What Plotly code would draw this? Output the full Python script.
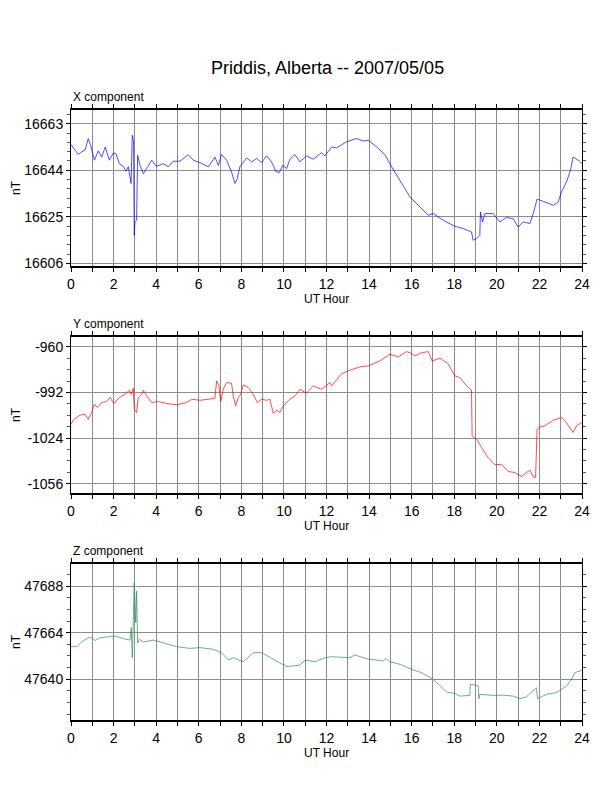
import plotly.graph_objects as go

# UT hour / nT values, one pair of lists per component
x_hours = [0.00, 0.14, 0.34, 0.50, 0.66, 0.81, 0.92, 1.10, 1.28, 1.44, 1.61, 1.80, 1.99, 2.11,
           2.27, 2.46, 2.58, 2.69, 2.82, 2.88, 2.94, 2.97, 3.00, 3.08, 3.13, 3.24, 3.40, 3.55,
           3.79, 4.02, 4.33, 4.57, 4.80, 5.12, 5.51, 5.74, 6.06, 6.45, 6.76, 6.92, 7.07, 7.31,
           7.54, 7.70, 7.81, 7.93, 8.09, 8.25, 8.48, 8.72, 8.95, 9.19, 9.42, 9.62, 9.78, 9.94,
           10.13, 10.28, 10.52, 10.75, 11.06, 11.38, 11.77, 11.92, 12.24, 12.47, 12.94, 13.41,
           13.72, 13.96, 14.36, 14.74, 15.06, 15.45, 15.92, 16.31, 16.78, 17.02, 17.48, 18.03,
           18.42, 18.81, 18.89, 19.05, 19.20, 19.23, 19.33, 19.44, 19.83, 20.14, 20.45, 20.77,
           21.00, 21.24, 21.55, 21.71, 21.89, 22.18, 22.65, 22.88, 23.04, 23.27, 23.46, 23.58,
           23.82, 24.00]
x_nt = [16654.5, 16652.9, 16650.5, 16651.5, 16652.2, 16656.9, 16654.2, 16648.1, 16651.9, 16649.4,
        16653.5, 16648.1, 16651.1, 16650.8, 16646.7, 16645.6, 16643.6, 16645.4, 16638.6, 16658.3,
        16655.6, 16617.4, 16622.9, 16623.6, 16650.1, 16646.0, 16642.6, 16644.7, 16648.1, 16645.6,
        16646.7, 16645.4, 16647.7, 16647.7, 16650.4, 16648.1, 16647.1, 16645.4, 16649.4, 16646.0,
        16650.4, 16648.1, 16643.3, 16638.6, 16640.6, 16645.4, 16647.4, 16649.0, 16647.4, 16648.8,
        16647.1, 16649.9, 16647.4, 16643.6, 16643.0, 16646.0, 16644.7, 16648.5, 16650.4, 16647.4,
        16649.9, 16648.5, 16651.2, 16649.9, 16653.5, 16653.1, 16655.6, 16657.0, 16655.9, 16656.3,
        16653.5, 16650.4, 16645.4, 16639.9, 16633.1, 16629.7, 16625.6, 16626.3, 16623.6, 16621.1,
        16620.2, 16618.8, 16615.4, 16616.1, 16617.4, 16627.0, 16622.9, 16626.3, 16626.3, 16622.9,
        16624.7, 16624.2, 16620.8, 16622.9, 16622.2, 16626.3, 16632.2, 16631.3, 16629.7, 16631.0,
        16635.2, 16639.2, 16644.0, 16649.4, 16648.1, 16646.7]

y_hours = [0.00, 0.14, 0.42, 0.66, 0.81, 0.97, 1.10, 1.24, 1.44, 1.67, 1.83, 2.02, 2.27, 2.54,
           2.74, 2.82, 2.93, 2.97, 3.08, 3.16, 3.32, 3.40, 3.55, 3.79, 4.10, 4.49, 4.96, 5.43,
           5.67, 6.06, 6.45, 6.76, 6.84, 6.95, 7.03, 7.15, 7.31, 7.54, 7.62, 7.73, 7.86, 7.97,
           8.09, 8.33, 8.56, 8.75, 8.95, 9.19, 9.34, 9.50, 9.66, 9.81, 9.97, 10.28, 10.52, 10.75,
           11.06, 11.38, 11.77, 12.16, 12.24, 12.71, 13.10, 13.57, 13.96, 14.51, 14.98, 15.37,
           15.76, 15.92, 16.15, 16.46, 16.78, 16.96, 17.33, 17.72, 18.03, 18.26, 18.58, 18.81,
           18.84, 19.05, 19.28, 19.59, 19.91, 20.22, 20.53, 20.85, 21.16, 21.39, 21.55, 21.71,
           21.82, 21.89, 22.02, 22.25, 22.65, 23.04, 23.19, 23.58, 23.74, 24.00]
y_nt = [-1014.2, -1010.7, -1007.9, -1007.2, -1010.7, -1006.0, -1000.2, -1002.5, -999.0, -998.3,
        -995.5, -999.7, -995.5, -993.2, -990.4, -993.2, -989.0, -1003.7, -1006.0, -995.5,
        -993.2, -990.4, -994.3, -999.0, -998.3, -999.7, -1000.6, -999.0, -996.7, -997.4,
        -996.7, -996.0, -983.8, -987.3, -998.3, -989.7, -985.0, -985.5, -994.3, -1001.3,
        -995.5, -993.2, -986.6, -988.5, -993.2, -999.0, -996.7, -997.4, -996.7, -1006.7,
        -1004.4, -1006.0, -1001.3, -996.7, -994.3, -989.7, -992.5, -987.3, -989.7, -985.0,
        -987.3, -978.7, -976.3, -974.0, -973.3, -969.8, -965.1, -967.0, -963.3, -964.0,
        -966.3, -964.0, -963.3, -969.8, -967.9, -972.1, -980.3, -981.5, -987.3, -990.4,
        -1022.4, -1024.8, -1030.6, -1037.6, -1042.7, -1042.3, -1047.4, -1048.1, -1050.9, -1048.1,
        -1046.4, -1051.1, -1051.6, -1017.7, -1016.1, -1015.4, -1011.4, -1009.5, -1011.4, -1020.0,
        -1015.4, -1013.0]

z_hours = [0.00, 0.27, 0.50, 0.81, 0.97, 1.13, 1.36, 1.67, 2.07, 2.46, 2.77, 2.83, 2.88, 2.97,
           3.04, 3.08, 3.13, 3.21, 3.40, 3.87, 4.33, 4.96, 5.59, 6.06, 6.68, 7.07, 7.39, 7.62,
           8.09, 8.56, 8.95, 9.50, 10.13, 10.75, 10.99, 11.46, 11.92, 12.24, 13.10, 13.33, 13.88,
           14.66, 14.79, 14.98, 15.45, 16.00, 16.46, 17.02, 17.64, 18.03, 18.26, 18.73, 18.76,
           19.02, 19.13, 19.16, 19.20, 19.83, 20.30, 20.77, 21.08, 21.39, 21.71, 21.86, 21.91,
           22.33, 22.80, 23.27, 23.51, 23.66, 24.00]
z_nt = [47656.8, 47656.8, 47659.2, 47661.4, 47661.4, 47660.0, 47661.4, 47661.9, 47662.3, 47660.9,
        47660.2, 47666.6, 47651.1, 47689.8, 47669.2, 47685.5, 47658.8, 47660.6, 47659.2, 47660.2,
        47658.8, 47656.8, 47655.9, 47656.3, 47655.4, 47653.7, 47649.9, 47651.1, 47649.0, 47653.7,
        47653.7, 47650.2, 47646.5, 47647.3, 47649.9, 47649.0, 47651.1, 47651.6, 47651.1, 47652.5,
        47650.6, 47649.4, 47650.6, 47649.0, 47647.7, 47645.1, 47643.4, 47639.9, 47633.4, 47632.7,
        47631.3, 47631.7, 47637.3, 47637.0, 47636.5, 47630.0, 47632.2, 47631.7, 47631.8, 47631.3,
        47630.0, 47631.0, 47633.9, 47635.6, 47630.0, 47632.2, 47633.1, 47636.5, 47639.9, 47643.4,
        47644.6]

# labelled y ticks of each panel
x_ticks = [16606, 16625, 16644, 16663]
y_ticks = [-1056, -1024, -992, -960]
z_ticks = [47640, 47664, 47688]

font = "Liberation Sans, Arial, Helvetica, sans-serif"
W, H = 612, 792
OFF = 8  # the page puts the figure 8 px in from the window corner


def px(x):
    return (x - OFF) / W


def py(y):
    return 1 - (y - OFF) / H


panels = [
    # name, hours, values, colour, ticks, minor dtick, range, frame top/bottom (px)
    ("X component", x_hours, x_nt, "#0000ff", x_ticks, 3.8, [16604.9, 16668.6], (110, 266)),
    ("Y component", y_hours, y_nt, "#ff0000", y_ticks, 8, [-1062.5, -953.0], (337, 493)),
    ("Z component", z_hours, z_nt, "#2e8b57", z_ticks, 6, [47619.0, 47699.4], (564, 720)),
]

left, right = px(71), px(582)

fig = go.Figure()
annotations = [dict(text="Priddis, Alberta -- 2007/05/05", x=px(327), y=py(68),
                    xref="paper", yref="paper", showarrow=False,
                    xanchor="center", yanchor="middle",
                    font=dict(size=18, family=font, color="black"))]

for i, (name, hrs, vals, col, tv, mdt, rng, (ptop, pbot)) in enumerate(panels):
    n = "" if i == 0 else str(i + 1)
    top, bottom = py(ptop), py(pbot)
    fig.add_trace(go.Scatter(x=hrs, y=vals, mode="lines", xaxis="x" + n, yaxis="y" + n,
                             line=dict(color=col, width=0.7), showlegend=False))
    axx = dict(domain=[left, right], range=[0, 24], anchor="y" + n, tickmode="linear", tick0=0, dtick=2,
               automargin=False,
               showgrid=True, gridcolor="#8c8c8c", gridwidth=0.8, zeroline=False,
               showline=True, linecolor="black", linewidth=1.6, mirror="ticks",
               ticks="outside", ticklen=4, tickcolor="black",
               tickfont=dict(size=14, family=font, color="black"),
               minor=dict(dtick=1, tick0=0, showgrid=True, gridcolor="#8c8c8c", gridwidth=0.8,
                          ticks="outside", ticklen=4, tickcolor="black"))
    axy = dict(domain=[bottom, top], range=rng, anchor="x" + n, tickmode="array", tickvals=tv,
               ticktext=[str(v) for v in tv], automargin=False,
               showgrid=True, gridcolor="#8c8c8c", gridwidth=0.8, zeroline=False,
               showline=True, linecolor="black", linewidth=1.0, mirror="ticks",
               ticks="outside", ticklen=4, tickcolor="black",
               tickfont=dict(size=14, family=font, color="black"),
               minor=dict(dtick=mdt, tick0=tv[0], showgrid=False,
                          ticks="outside", ticklen=3, tickcolor="#555"))
    fig.update_layout({"xaxis" + n: axx, "yaxis" + n: axy})

    annotations.append(dict(text=name, x=left, y=py(ptop - 4), xref="paper", yref="paper",
                            xanchor="left", yanchor="bottom", showarrow=False,
                            font=dict(size=12, family=font, color="black")))
    annotations.append(dict(text="UT Hour", x=px(326), y=py(pbot + 24), xref="paper", yref="paper",
                            xanchor="center", yanchor="top", showarrow=False,
                            font=dict(size=12, family=font, color="black")))
    annotations.append(dict(text="nT", x=px(16), y=(top + bottom) / 2, xref="paper", yref="paper",
                            xanchor="center", yanchor="middle", textangle=-90, showarrow=False,
                            borderpad=0, font=dict(size=12, family=font, color="black")))

fig.update_layout(width=W, height=H, margin=dict(l=0, r=0, t=0, b=0),
                  paper_bgcolor="white", plot_bgcolor="white",
                  annotations=annotations)

fig.write_html("out.html")
